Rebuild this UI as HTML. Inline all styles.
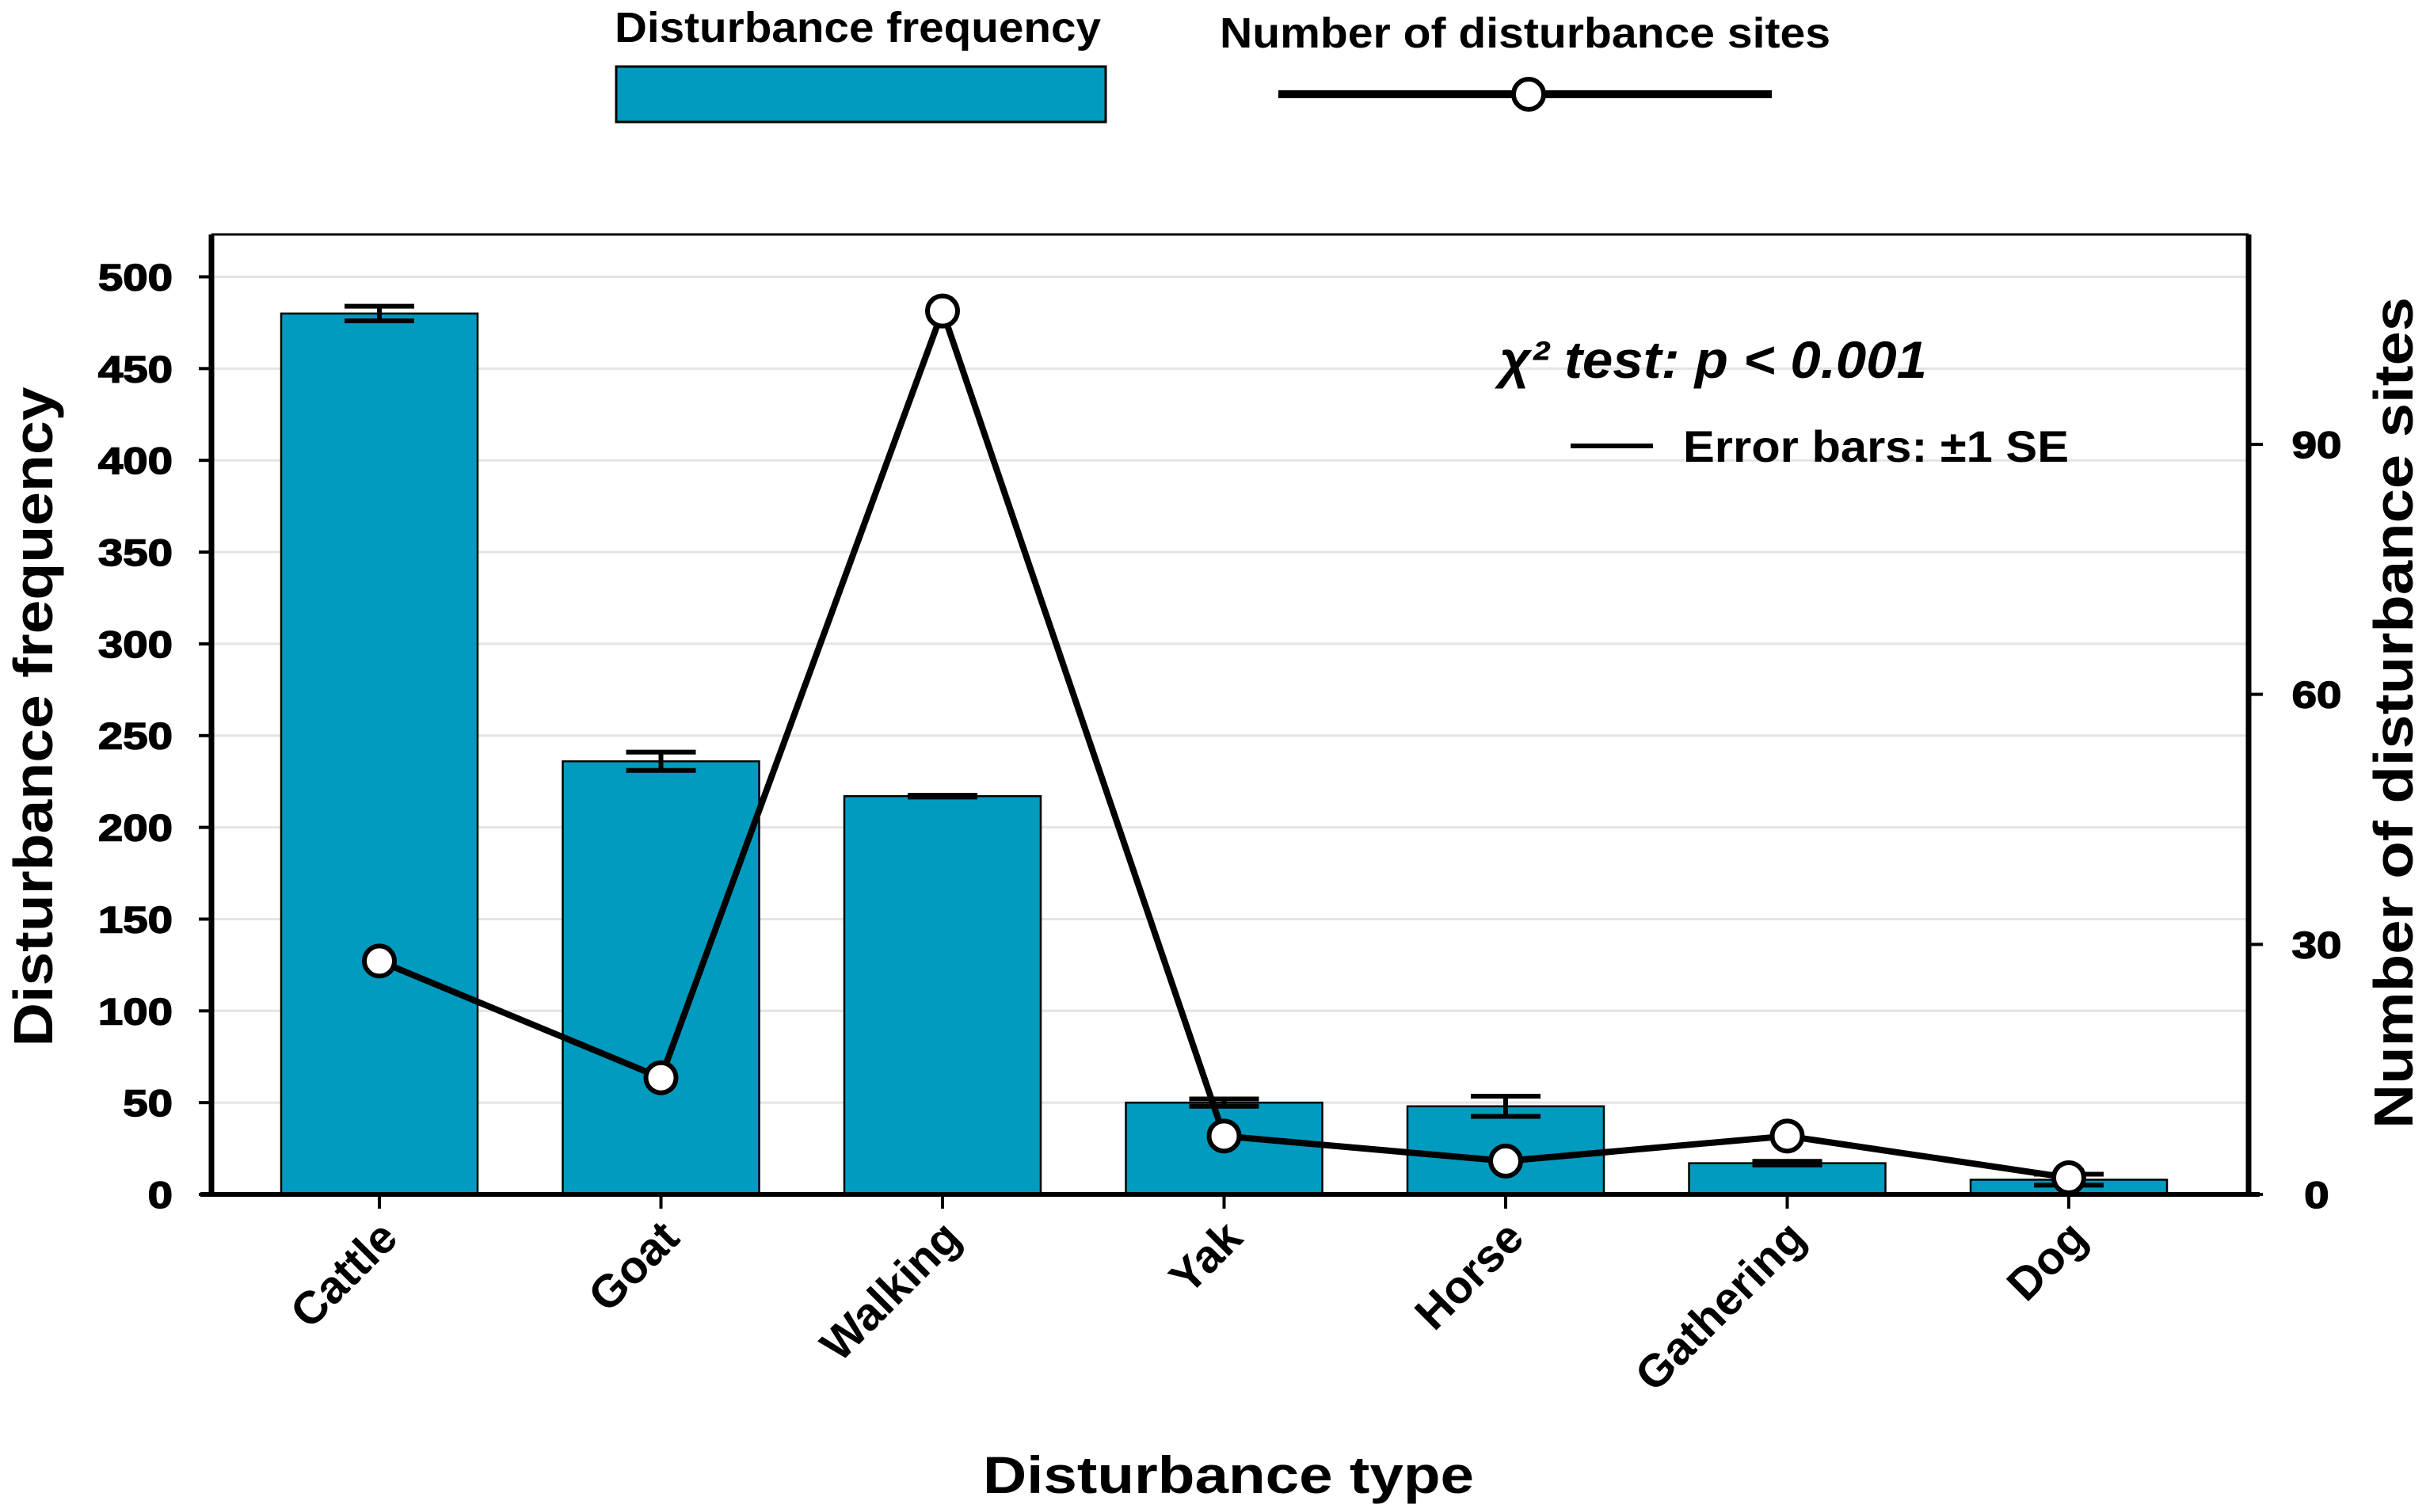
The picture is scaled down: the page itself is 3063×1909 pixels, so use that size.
<!DOCTYPE html>
<html><head><meta charset="utf-8"><style>
html,body{margin:0;padding:0;background:#fff;}
svg{display:block;}
text{font-family:"Liberation Sans",sans-serif;font-weight:bold;fill:#000;}
</style></head><body>
<svg id="chart" width="3063" height="1909" viewBox="0 0 3063 1909" xmlns="http://www.w3.org/2000/svg">
<g>
<text x="776" y="53" font-size="54" textLength="614" lengthAdjust="spacingAndGlyphs">Disturbance frequency</text>
<rect x="778" y="84" width="618" height="70" fill="#009bbf" stroke="#000" stroke-width="3"/>
<text x="1540" y="60" font-size="54" textLength="771" lengthAdjust="spacingAndGlyphs">Number of disturbance sites</text>
<line x1="1614" y1="119" x2="2237" y2="119" stroke="#000" stroke-width="10"/>
<circle cx="1930" cy="119" r="19" fill="#fff" stroke="#000" stroke-width="6"/>
</g>
<g id="grid"></g>
<g id="bars"></g>
<g id="errs"></g>
<g id="line"></g>
<g id="axes"></g>
<text x="1893" y="477" font-size="66" font-style="italic" textLength="540" lengthAdjust="spacingAndGlyphs">χ² test: p &lt; 0.001</text>
<line x1="1983" y1="563" x2="2087" y2="563" stroke="#000" stroke-width="6"/>
<text x="2125" y="583" font-size="56" textLength="487" lengthAdjust="spacingAndGlyphs">Error bars: ±1 SE</text>
<text transform="translate(66,905) rotate(-90)" text-anchor="middle" font-size="70" textLength="833" lengthAdjust="spacingAndGlyphs">Disturbance frequency</text>
<text transform="translate(3046,900) rotate(-90)" text-anchor="middle" font-size="70" textLength="1050" lengthAdjust="spacingAndGlyphs">Number of disturbance sites</text>
<text x="1551" y="1885" text-anchor="middle" font-size="66" textLength="620" lengthAdjust="spacingAndGlyphs">Disturbance type</text>
</svg>
<script>
const categories=["Cattle","Goat","Walking","Yak","Horse","Gathering","Dog"];
const frequency=[480,236,217,50,48,17,8];
const frequencyErr=[4,5,0.5,2,5.5,1,3];
const sites=[28,14,106,7,4,7,2];
const leftTicks=[0,50,100,150,200,250,300,350,400,450,500];
const rightTicks=[0,30,60,90];

const NS="http://www.w3.org/2000/svg";
const L=267,R=2839,T=296,B=1508;
const yL=v=>B-v*(B-349.5)/500;
const yR=v=>B-v*(B-561)/90;
const xC=i=>479+i*355.5;
const BW=248;
function mk(tag,attrs,parent){const e=document.createElementNS(NS,tag);for(const k in attrs)e.setAttribute(k,attrs[k]);parent.appendChild(e);return e;}
const grid=document.getElementById('grid'),bars=document.getElementById('bars'),errs=document.getElementById('errs'),lineG=document.getElementById('line'),axes=document.getElementById('axes');

leftTicks.forEach(v=>{if(v===0)return;const g=mk('line',{x1:L,x2:R,y1:yL(v),y2:yL(v),stroke:'#e4e4e4','stroke-width':3},grid);

});

categories.forEach((c,i)=>{
 const y=yL(frequency[i]);
 const r=mk('rect',{x:xC(i)-BW/2,y:y,width:BW,height:B-y,fill:'#009bbf',stroke:'#000','stroke-width':2.5},bars);
 
 
 const e=mk('path',{d:`M${xC(i)} ${yL(frequency[i]+frequencyErr[i])}V${yL(frequency[i]-frequencyErr[i])}M${xC(i)-44} ${yL(frequency[i]+frequencyErr[i])}H${xC(i)+44}M${xC(i)-44} ${yL(frequency[i]-frequencyErr[i])}H${xC(i)+44}`,stroke:'#000','stroke-width':6,fill:'none'},errs);
 
 
});
const pl=mk('polyline',{points:sites.map((s,i)=>xC(i)+','+yR(s)).join(' '),fill:'none',stroke:'#000','stroke-width':8,'stroke-linejoin':'miter'},lineG);


sites.forEach((s,i)=>{const c=mk('circle',{cx:xC(i),cy:yR(s),r:19,fill:'#fff',stroke:'#000','stroke-width':6},lineG);

});

const f1=mk('path',{d:`M${L} ${T}H${R}`,stroke:'#000','stroke-width':3},axes);


const f2=mk('path',{d:`M${L} ${T}V${B}M${R} ${T}V${B}`,stroke:'#000','stroke-width':7},axes);


const f3=mk('path',{d:`M${L-14} ${B}H${R+14}`,stroke:'#000','stroke-width':6},axes);


leftTicks.forEach(v=>{
 const t=mk('line',{x1:L-16,x2:L,y1:yL(v),y2:yL(v),stroke:'#000','stroke-width':4},axes);
 
 
 const tx=mk('text',{x:218,y:yL(v)+17,'text-anchor':'end','font-size':47,stroke:'#000','stroke-width':1.5,transform:`translate(218 0) scale(1.2 1) translate(-218 0)`},axes);
 tx.textContent=v;
 
 
});
rightTicks.forEach(v=>{
 const t=mk('line',{x1:R,x2:R+18,y1:yR(v),y2:yR(v),stroke:'#000','stroke-width':4},axes);
 
 
 const tx=mk('text',{x:2925,y:yR(v)+17,'text-anchor':'middle','font-size':47,stroke:'#000','stroke-width':1.5,transform:`translate(2925 0) scale(1.2 1) translate(-2925 0)`},axes);
 tx.textContent=v;
 
 
});
categories.forEach((c,i)=>{
 const t=mk('line',{x1:xC(i),x2:xC(i),y1:B,y2:B+18,stroke:'#000','stroke-width':4},axes);
 
 
 const x=xC(i)+26,y=1566;
 const tx=mk('text',{x:x,y:y,'text-anchor':'end','font-size':58,transform:`rotate(-45 ${x} ${y})`},axes);
 tx.textContent=c;
 
 
});
</script>
</body></html>
